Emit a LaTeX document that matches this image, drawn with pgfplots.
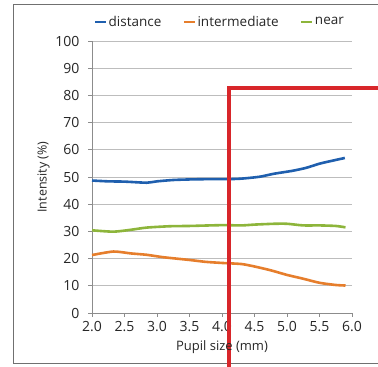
\documentclass[border=0pt]{standalone}
\usepackage{pgfplots}
\pgfplotsset{compat=1.18}
\usepackage{fontspec}
\setmainfont{Open Sans}
\definecolor{cblue}{HTML}{1F5FAE}
\definecolor{corange}{HTML}{E67E2C}
\definecolor{cgreen}{HTML}{8DB53B}
\definecolor{cred}{HTML}{D8262A}
\definecolor{cgrid}{HTML}{BDBDBD}
\definecolor{caxis}{HTML}{8C8C8C}
\begin{document}
\begin{tikzpicture}[x=1pt,y=1pt]
\useasboundingbox (0,0) rectangle (378,367);
\draw[caxis!80!black, line width=1pt] (378,3.5) -- (13.5,3.5) -- (13.5,362) -- (378,362);
\begin{axis}[
  at={(92pt,54pt)}, anchor=origin,
  scale only axis, width=260pt, height=272pt,
  xmin=2, xmax=6, ymin=0, ymax=100,
  axis x line=bottom, axis y line=left,
  axis line style={caxis, line width=0.8pt, -},
  xtick={2,2.5,...,6}, ytick={0,10,...,100},
  xticklabel style={/pgf/number format/fixed, /pgf/number format/fixed zerofill, /pgf/number format/precision=1},
  /pgf/number format/assume math mode=true,
  tick style={caxis, line width=0.8pt},
  tick align=outside, major tick length=4pt,
  ymajorgrids, grid style={cgrid, line width=0.9pt},
  ticklabel style={font=\fontsize{14}{16}\selectfont, text=black!85},
  xticklabel style={yshift=-1pt},
  yticklabel style={xshift=-5pt},
  xlabel={Pupil size (mm)}, ylabel={Intensity (\%)},
  xlabel style={font=\fontsize{13}{15}\selectfont, text=black!85, yshift=-2pt},
  ylabel style={font=\fontsize{12.5}{14}\selectfont, text=black!85, yshift=-1pt},
  clip=false,
  legend columns=3,
  legend style={draw=none, fill=none, at={(0.493,1.07)}, anchor=center,
    font=\fontsize{13.5}{15}\selectfont, text=black!85,
    /tikz/every even column/.append style={column sep=20pt}},
  legend image code/.code={\draw[#1, line width=1.2pt] (0pt,0pt) -- (11pt,0pt);},
]
\addplot[cblue, line width=2.6pt, smooth, tension=0.4] coordinates {
(2.0,48.7) (2.25,48.4) (2.5,48.3) (2.84,47.9) (3.0,48.4) (3.25,48.9) (3.5,49.1) (3.75,49.2) (4.07,49.2) (4.3,49.4) (4.58,50.1) (4.8,51.2) (5.09,52.3) (5.3,53.4) (5.5,54.9) (5.7,56.0) (5.89,57.0)};
\addlegendentry{distance}
\addplot[corange, line width=2.6pt, smooth, tension=0.4] coordinates {
(2.0,21.3) (2.33,22.6) (2.6,21.9) (2.84,21.4) (3.1,20.5) (3.5,19.5) (3.75,18.8) (4.0,18.4) (4.3,18.0) (4.5,17.1) (4.75,15.7) (5.0,14.0) (5.25,12.6) (5.5,11.1) (5.75,10.3) (5.9,10.1)};
\addlegendentry{intermediate}
\addplot[cgreen, line width=2.6pt, smooth, tension=0.4] coordinates {
(2.0,30.4) (2.33,29.9) (2.6,30.6) (2.84,31.4) (3.2,31.9) (3.5,32.0) (4.0,32.3) (4.3,32.2) (4.5,32.5) (4.8,32.8) (5.0,32.8) (5.25,32.2) (5.5,32.2) (5.75,32.0) (5.9,31.5)};
\addlegendentry{near}
\draw[cred, line width=3.5pt] (axis cs:4.11,-20) -- (axis cs:4.11,82.7) -- (axis cs:6.45,82.7);
\end{axis}
\end{tikzpicture}
\end{document}
